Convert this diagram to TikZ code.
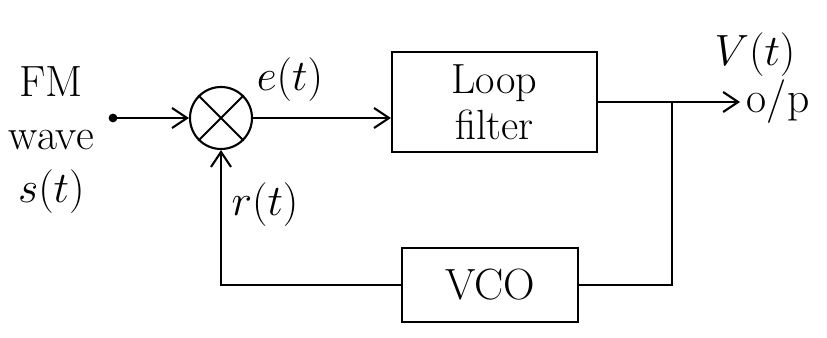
\documentclass[tikz,border=0pt]{standalone}
\usetikzlibrary{arrows.meta}

\begin{document}
\begin{tikzpicture}[every node/.style={font=\Huge},
    wire/.style={line width=1.2pt},
    sig/.style={wire, -{Straight Barb[length=3mm, width=4mm]}},
    blk/.style={draw, line width=1.2pt, align=center, inner sep=2pt}]
    \useasboundingbox (0,0) rectangle (16.54,6.76);

    % mixer
    \node[draw, circle, line width=1.2pt, minimum size=1.24cm, inner sep=0pt] (mix) at (4.42,4.40) {};
    \draw[wire] (mix.45) -- (mix.225) (mix.135) -- (mix.315);

    % blocks
    \node[blk, font={\fontsize{24}{26}\selectfont}, minimum width=4.1cm, minimum height=2cm] (filter) at (9.89,4.72) {Loop\\filter};
    \node[blk, minimum width=3.52cm, minimum height=1.48cm] (vco) at (9.8,1.06) {VCO};

    % input
    \coordinate (in) at (2.26,4.40);
    \fill (in) circle (2.5pt);
    \node[align=center, anchor=east] (inlbl) at (2.0,3.96) {FM\\wave\\$s(t)$};
    \draw[sig] (in) -- (mix.west);

    % forward path
    \draw[sig] (mix.east) -- (mix.east -| filter.west);
    \node (elbl) at (5.8,5.16) {$e(t)$};
    \coordinate (out) at (14.8,4.72);
    \coordinate (jn) at (13.44,4.72);
    \draw[sig] (filter.east) -- (out) node[right] (op) {o/p};
    \node (vlbl) at (15.1,5.66) {$V(t)$};

    % feedback loop
    \draw[wire] (jn) |- (vco.east);
    \draw[sig] (vco.west) -| (mix.south);
    \node (rlbl) at (5.3,2.66) {$r(t)$};
\end{tikzpicture}
\end{document}
